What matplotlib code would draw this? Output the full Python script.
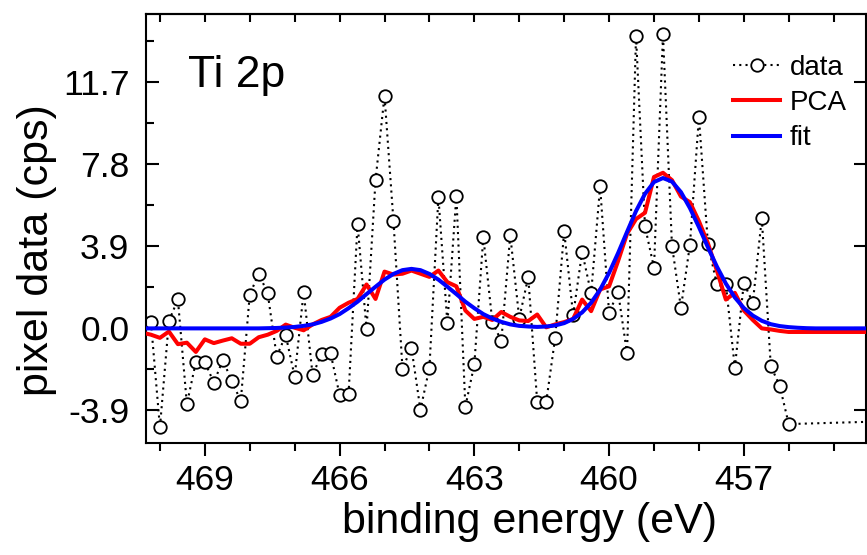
import matplotlib
matplotlib.use('Agg')
import matplotlib.pyplot as plt
from matplotlib.ticker import FixedLocator, MultipleLocator, FormatStrFormatter, NullFormatter

plt.rcParams['font.family'] = ['Liberation Sans', 'DejaVu Sans']

# measured pixel data (binding energy in eV, counts in cps)
energy = [470.2, 470.0, 469.8, 469.6, 469.4, 469.2, 469.0, 468.8, 468.6, 468.4,
          468.2, 468.0, 467.8, 467.6, 467.4, 467.2, 467.0, 466.8, 466.6, 466.4,
          466.2, 466.0, 465.8, 465.6, 465.4, 465.2, 465.0, 464.8, 464.6, 464.4,
          464.2, 464.0, 463.8, 463.6, 463.4, 463.2, 463.0, 462.8, 462.6, 462.4,
          462.2, 462.0, 461.8, 461.6, 461.4, 461.2, 461.0, 460.8, 460.6, 460.4,
          460.2, 460.0, 459.8, 459.6, 459.4, 459.2, 459.0, 458.8, 458.6, 458.4,
          458.2, 458.0, 457.8, 457.6, 457.4, 457.2, 457.0, 456.8, 456.6, 456.4,
          456.2, 456.0, 451.9]
counts = [0.30, -4.71, 0.35, 1.38, -3.60, -1.60, -1.60, -2.58, -1.50, -2.50,
          -3.45, 1.61, 2.61, 1.66, -1.34, -0.32, -2.29, 1.74, -2.23, -1.20,
          -1.19, -3.16, -3.13, 4.97, -0.05, 7.04, 11.07, 5.09, -1.91, -0.92,
          -3.87, -1.87, 6.25, 0.24, 6.31, -3.72, -1.71, 4.35, 0.32, -0.60,
          4.43, 0.47, 2.45, -3.50, -3.50, -0.44, 4.62, 0.63, 3.64, 1.66,
          6.75, 0.74, 1.74, -1.19, 13.90, 4.85, 2.88, 13.98, 3.94, 0.98,
          3.98, 10.07, 4.02, 2.09, 2.09, -1.87, 2.17, 1.22, 5.25, -1.79,
          -2.74, -4.55, -4.30]

# PCA reconstruction
pca_energy = [470.4, 470.2, 470.0, 469.8, 469.6, 469.4, 469.2, 469.0, 468.8, 468.6, 468.4,
              468.2, 468.0, 467.8, 467.6, 467.4, 467.2, 467.0, 466.8, 466.6, 466.4,
              466.2, 466.0, 465.8, 465.6, 465.4, 465.2, 465.0, 464.8, 464.6, 464.4,
              464.2, 464.0, 463.8, 463.6, 463.4, 463.2, 463.0, 462.8, 462.6, 462.4,
              462.2, 462.0, 461.8, 461.6, 461.4, 461.2, 461.0, 460.8, 460.6, 460.4,
              460.2, 460.0, 459.8, 459.6, 459.4, 459.2, 459.0, 458.8, 458.6, 458.4,
              458.2, 458.0, 457.8, 457.6, 457.4, 457.2, 457.0, 456.8, 456.6, 456.4,
              456.2, 456.0, 453.9]
pca = [-0.20,
       -0.30, -0.45, -0.15, -0.75, -0.68, -1.12, -0.52, -0.70, -0.58, -0.47,
       -0.73, -0.73, -0.42, -0.30, -0.12, 0.18, 0.03, -0.09, 0.19, 0.40,
       0.55, 0.98, 1.22, 1.40, 2.09, 1.40, 2.70, 2.56, 2.60, 2.75,
       2.60, 2.45, 2.75, 2.20, 2.00, 0.85, 0.45, 0.55, 0.40, 0.78,
       0.55, 0.38, 0.35, 0.66, 0.05, 0.19, 0.30, 0.45, 1.37, 0.82,
       1.85, 2.00, 3.20, 4.50, 5.20, 5.50, 7.20, 7.40, 7.05, 6.27,
       6.00, 5.10, 4.05, 2.75, 1.37, 1.69, 0.85, 0.40, 0.00, -0.05,
       -0.12, -0.17,
       -0.17]

# fitted curve
fit_energy = [470.4, 467.8, 467.6, 467.4, 467.2, 467.0, 466.8, 466.6, 466.4, 466.2,
              466.0, 465.8, 465.6, 465.4, 465.2, 465.0, 464.8, 464.6, 464.4, 464.2,
              464.0, 463.8, 463.6, 463.4, 463.2, 463.0, 462.8, 462.6, 462.4, 462.2,
              462.0, 461.8, 461.6, 461.4, 461.2, 461.0, 460.8, 460.6, 460.4, 460.2,
              460.0, 459.8, 459.6, 459.4, 459.2, 459.0, 458.8, 458.6, 458.4, 458.2,
              458.0, 457.8, 457.6, 457.4, 457.2, 457.0, 456.8, 456.6, 456.4, 456.2,
              456.0, 455.8, 455.6, 455.4, 453.9]
fit = [0.00, 0.00, 0.01, 0.02, 0.04, 0.07, 0.12, 0.19, 0.31, 0.47,
       0.68, 0.96, 1.27, 1.63, 1.98, 2.32, 2.59, 2.77, 2.83, 2.77,
       2.59, 2.32, 1.98, 1.63, 1.27, 0.96, 0.68, 0.47, 0.31, 0.19,
       0.12, 0.09, 0.07, 0.09, 0.14, 0.25, 0.45, 0.76, 1.22, 1.84,
       2.64, 3.58, 4.59, 5.58, 6.40, 6.96, 7.15, 6.98, 6.48, 5.72,
       4.82, 3.86, 2.94, 2.13, 1.47, 0.97, 0.61, 0.36, 0.20, 0.11,
       0.06, 0.03, 0.01, 0.00, 0.00]

x_ticks = [469, 466, 463, 460, 457]
y_ticks = [-3.9, 0.0, 3.9, 7.8, 11.7]

fig = plt.figure(figsize=(8.67, 5.55), dpi=100)
ax = fig.add_axes([146 / 867, 112 / 555, 720 / 867, 429 / 555])

ax.plot(energy, counts, ls=(0, (1, 2.0)), color='black', lw=1.5, marker='o', ms=9,
        mfc='white', mec='black', mew=1.3, label='data', zorder=2)
ax.plot(pca_energy, pca, color='#ff0000', lw=2.9, label='PCA', zorder=3)
ax.plot(fit_energy, fit, color='#0000ff', lw=2.9, label='fit', zorder=4)

ax.set_xlim(470.31, 454.28)
ax.set_ylim(-5.45, 14.95)

for s in ax.spines.values():
    s.set_linewidth(1.5)

ax.xaxis.set_major_locator(FixedLocator(x_ticks))
ax.xaxis.set_minor_locator(MultipleLocator(1))
ax.yaxis.set_major_locator(FixedLocator(y_ticks))
ax.yaxis.set_minor_locator(MultipleLocator(1.95))
ax.yaxis.set_major_formatter(FormatStrFormatter('%.1f'))

ax.tick_params(axis='x', which='both', direction='out', top=False, labelsize=25.5, width=1.5, pad=6)
ax.tick_params(axis='x', which='major', length=9)
ax.tick_params(axis='x', which='minor', length=5.5)
ax.tick_params(axis='y', which='both', direction='in', right=True, labelsize=25.5, width=1.5, pad=12)
ax.tick_params(axis='y', which='major', length=9)
ax.tick_params(axis='y', which='minor', length=5.5, right=False)

top = ax.secondary_xaxis('top')
top.xaxis.set_major_locator(MultipleLocator(1))
top.xaxis.set_major_formatter(NullFormatter())
top.tick_params(direction='in', length=6, width=1.5)
top.spines['top'].set_linewidth(1.5)

ax.set_xlabel('binding energy (eV)', fontsize=31, ha='center', va='center')
ax.xaxis.set_label_coords(0.533, -0.184)
ax.set_ylabel('pixel data (cps)', fontsize=31, ha='center', va='center')
ax.yaxis.set_label_coords(-0.151, 0.45)

fig.text(188 / 867, 1 - 87 / 555, 'Ti 2p', fontsize=32, va='baseline', ha='left')

ax.legend(loc='upper left', bbox_to_anchor=(733 / 867, 1 - 55 / 555), bbox_transform=fig.transFigure,
          frameon=False, fontsize=20, handlelength=1.7, handletextpad=0.35, labelspacing=0.33,
          borderpad=0, borderaxespad=0)

fig.savefig('out.png', dpi=100)
